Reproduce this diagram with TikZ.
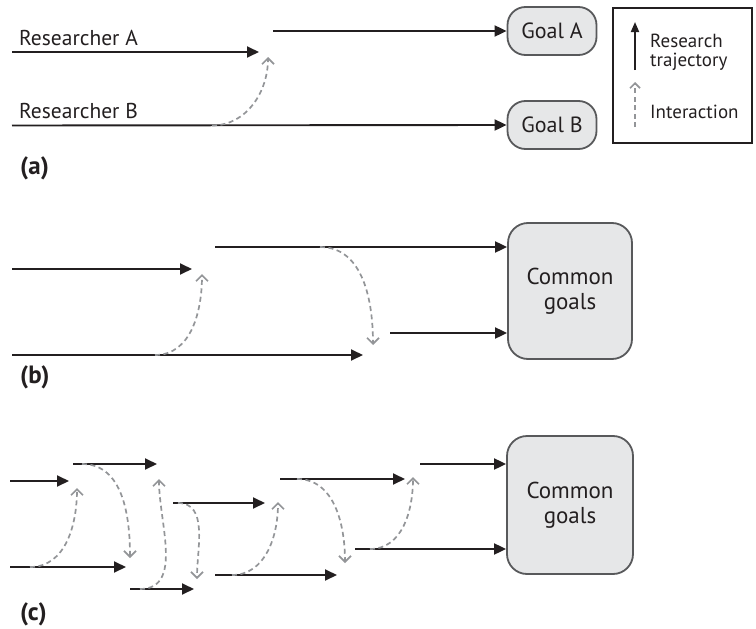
\documentclass[tikz,border=0pt]{standalone}
\usepackage{fontspec}
\setmainfont{PT Sans}
\usetikzlibrary{arrows.meta}
\definecolor{ink}{HTML}{231F20}
\definecolor{dgray}{HTML}{939598}
\definecolor{bfill}{HTML}{E6E7E8}
\definecolor{bdraw}{HTML}{58595B}
\tikzset{
  traj/.style={line width=1.9pt, draw=ink, -{Triangle[length=12pt,width=11pt]}},
  inter/.style={line width=1.7pt, draw=dgray, dash pattern=on 5pt off 3.5pt, -{Straight Barb[length=6pt,width=12pt]}},
  goalbox/.style={draw=bdraw, line width=1.8pt, fill=bfill, inner sep=0pt, text=ink, align=center},
  lbl/.style={inner sep=0pt, text=ink, font=\fontsize{21.5}{24}\selectfont},
  panel/.style={inner sep=0pt, text=ink, font=\fontsize{25}{28}\selectfont\bfseries, anchor=base west}
}
\begin{document}
\begin{tikzpicture}[x=1pt,y=-1pt]
\useasboundingbox (0,0) rectangle (756,629);
% ---------- panel (a) ----------
\node[goalbox, minimum width=89pt, minimum height=48pt, rounded corners=18pt, font=\fontsize{22}{24}\selectfont] (goalA) at (552,31) {Goal A};
\node[goalbox, minimum width=89pt, minimum height=48pt, rounded corners=18pt, font=\fontsize{22}{24}\selectfont] (goalB) at (552,125) {Goal B};
\node[lbl, anchor=base west] (resA) at (19,45.5) {Researcher A};
\node[lbl, anchor=base west] (resB) at (19,118) {Researcher B};
\node[panel] (pa) at (20,174) {(a)};
\coordinate (a1) at (12,52);
\coordinate (a2) at (259,52);
\coordinate (a3) at (273,31);
\coordinate (a4) at (212,125.5);
\coordinate (a5) at (268,57);
\coordinate (b0) at (12,125.5);
\draw[traj] (a1) -- (a2);
\draw[traj] (a3) -- (goalA.west);
\draw[traj] (b0) -- (goalB.west);
\draw[inter] (a4) to[out=0,in=-90] (a5);
% legend
\node[draw=ink, line width=1.2pt, minimum width=139pt, minimum height=135pt, inner sep=0pt] (leg) at (682.5,75.5) {};
\coordinate (l1) at (635,70);
\coordinate (l2) at (635,22);
\coordinate (l3) at (635,127);
\coordinate (l4) at (635,82);
\draw[traj, -{Triangle[length=10pt,width=8pt]}] (l1) -- (l2);
\draw[inter, -{Straight Barb[length=5pt,width=10pt]}] (l3) -- (l4);
\node[lbl, anchor=west, align=left, font=\fontsize{19}{19.5}\selectfont] (legT) at (650,52.5) {Research\\trajectory};
\node[lbl, anchor=west, font=\fontsize{19}{19.5}\selectfont] (legI) at (650,112) {Interaction};
% ---------- panel (b) ----------
\node[goalbox, minimum width=124pt, minimum height=136pt, rounded corners=20pt, font=\fontsize{23}{25}\selectfont] (cgB) at (570,291) {Common\\goals};
\node[panel] (pb) at (20,383) {(b)};
\coordinate (b1) at (12,269);
\coordinate (b2) at (192,269);
\coordinate (b3) at (215,247);
\coordinate (b4) at (12,355);
\coordinate (b5) at (363,355);
\coordinate (b6) at (390,333);
\coordinate (b7) at (155,355);
\coordinate (b8) at (202,274);
\coordinate (b9) at (320,247);
\coordinate (b10) at (373,345);
\draw[traj] (b1) -- (b2);
\draw[traj] (b3) -- (b3 -| cgB.west);
\draw[traj] (b4) -- (b5);
\draw[traj] (b6) -- (b6 -| cgB.west);
\draw[inter] (b7) to[out=0,in=-90] (b8);
\draw[inter] (b9) to[out=0,in=90] (b10);
% ---------- panel (c) ----------
\node[goalbox, minimum width=126pt, minimum height=138pt, rounded corners=20pt, font=\fontsize{23}{25}\selectfont] (cgC) at (570,505) {Common\\goals};
\node[panel] (pc) at (20,620) {(c)};
\coordinate (c1s) at (10,481);   \coordinate (c1e) at (69,481);
\coordinate (c2s) at (73,464);   \coordinate (c2e) at (157,464);
\coordinate (c3s) at (10,567);   \coordinate (c3e) at (126,567);
\coordinate (c4s) at (130,589);  \coordinate (c4e) at (194,589);
\coordinate (c5s) at (173,503);  \coordinate (c5e) at (265,503);
\coordinate (c6s) at (280,479);  \coordinate (c6e) at (405,479);
\coordinate (c7s) at (215,575);  \coordinate (c7e) at (337,575);
\coordinate (c8s) at (420,464);
\coordinate (c9s) at (355,549);
\draw[traj] (c1s) -- (c1e);
\draw[traj] (c2s) -- (c2e);
\draw[traj] (c3s) -- (c3e);
\draw[traj] (c4s) -- (c4e);
\draw[traj] (c5s) -- (c5e);
\draw[traj] (c6s) -- (c6e);
\draw[traj] (c7s) -- (c7e);
\draw[traj] (c8s) -- (c8s -| cgC.west);
\draw[traj] (c9s) -- (c9s -| cgC.west);
\coordinate (d1s) at (30,567);  \coordinate (d1e) at (77,488);
\coordinate (d2s) at (82,464);  \coordinate (d2e) at (130,558);
\coordinate (d3s) at (140,589); \coordinate (d3e) at (159,479);
\coordinate (d4s) at (178,503); \coordinate (d4e) at (197,579);
\coordinate (d5s) at (232,575); \coordinate (d5e) at (278,502);
\coordinate (d6s) at (297,479); \coordinate (d6e) at (345,563);
\coordinate (d7s) at (370,549); \coordinate (d7e) at (413,477);
\draw[inter] (d1s) to[out=0,in=-90] (d1e);
\draw[inter] (d2s) to[out=0,in=90] (d2e);
\draw[inter] (d3s) to[out=0,in=-90] (d3e);
\draw[inter] (d4s) to[out=0,in=90] (d4e);
\draw[inter] (d5s) to[out=0,in=-90] (d5e);
\draw[inter] (d6s) to[out=0,in=90] (d6e);
\draw[inter] (d7s) to[out=0,in=-90] (d7e);
\end{tikzpicture}
\end{document}
